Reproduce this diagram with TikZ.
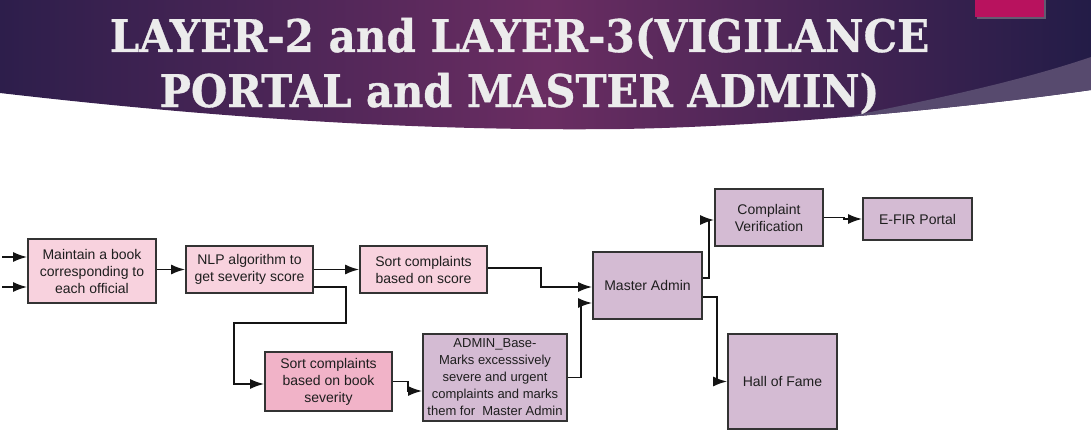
\documentclass[tikz,border=0pt]{standalone}
\usepackage{fontspec}
\setmainfont{Liberation Sans}
\newfontfamily\titlefont[BoldFeatures={FakeBold=0.8}]{DejaVu Serif}
\usetikzlibrary{arrows.meta}
\definecolor{hdrL}{HTML}{2D1E4B}
\definecolor{hdrM}{HTML}{6A2D62}
\definecolor{hdrR}{HTML}{231C47}
\definecolor{wedge}{HTML}{574A6E}
\definecolor{accent}{HTML}{B8125E}
\definecolor{titlec}{HTML}{ECECEC}
\definecolor{pinkA}{HTML}{F8D2DE}
\definecolor{pinkB}{HTML}{F1B3C8}
\definecolor{lav}{HTML}{D4BBD3}
\definecolor{boxline}{HTML}{333333}
\definecolor{txt}{HTML}{1E1E1E}
\begin{document}
\begin{tikzpicture}[x=1pt,y=-1pt,
  box/.style={draw=boxline, line width=1.7pt, align=center, text=txt,
    font=\fontsize{14}{17}\selectfont, inner sep=1pt},
  arr/.style={draw=black!92, line width=1.8pt, -{Latex[length=14pt,width=10pt]}},
  ttl/.style={font=\titlefont\bfseries\fontsize{45}{54}\selectfont, text=titlec, anchor=base}]
\useasboundingbox (0,0) rectangle (1091,441);
% header band
\def\bandpath{(0,0) -- (1091,0) -- (1091,90) .. controls (950,110) and (760,127) .. (620,129) .. controls (450,131) and (250,122) .. (0,93) -- cycle}
\shade[left color=hdrL, right color=hdrR, middle color=hdrM] \bandpath;
\begin{scope}
  \clip \bandpath;
  \fill[wedge] (790,128) .. controls (880,110) and (1000,88) .. (1091,57) -- (1091,200) -- (790,200) -- cycle;
\end{scope}
\fill[black!40, opacity=0.5] (977,0) rectangle (1046,19);
\fill[accent] (975,0) rectangle (1044,17);
\node[ttl] (t1) at (519.5,52) {\scalebox{0.936}[1]{LAYER-2 and LAYER-3(VIGILANCE}};
\node[ttl] (t2) at (519.5,107) {\scalebox{0.926}[1]{PORTAL and MASTER ADMIN)}};
% boxes
\node[box, fill=pinkA, minimum width=128pt, minimum height=64pt] (b1) at (92,271) {Maintain a book\\corresponding to\\each official};
\node[box, fill=pinkA, minimum width=127pt, minimum height=47pt] (b2) at (249.5,269.5) {NLP algorithm to\\get severity score};
\node[box, fill=pinkA, minimum width=127pt, minimum height=47pt] (b3) at (423.5,269.5) {Sort complaints\\based on score};
\node[box, fill=pinkB, minimum width=127pt, minimum height=59pt] (b4) at (328.5,381.5) {Sort complaints\\based on book\\severity};
\node[box, fill=lav, minimum width=144pt, minimum height=87pt, font=\fontsize{13}{17}\selectfont] (b5) at (495,377.5) {ADMIN\_Base-\\Marks excesssively\\severe and urgent\\complaints and marks\\them for\ \ Master Admin};
\node[box, fill=lav, minimum width=109pt, minimum height=67pt] (m) at (647.5,285.5) {Master Admin};
\node[box, fill=lav, minimum width=108pt, minimum height=57pt] (cv) at (769,217.5) {Complaint\\Verification};
\node[box, fill=lav, minimum width=109pt, minimum height=42pt] (ef) at (917.5,219) {E-FIR Portal};
\node[box, fill=lav, minimum width=109pt, minimum height=95pt] (hof) at (782.5,381.5) {Hall of Fame};
% inputs
\coordinate (in1) at (2,257);
\coordinate (in2) at (2,287);
\draw[arr] (in1) -- (in1 -| b1.west);
\draw[arr] (in2) -- (in2 -| b1.west);
% connectors
\draw[arr] (b2.west -| b1.east) -- (b2.west);
\draw[arr] (b2.east) -- (b3.west);
\draw[arr] ([yshift=-17.5pt]b2.east) -- ++(32,0) -- ++(0,36) -- ++(-112,0) |- ([yshift=-2.5pt]b4.west);
\draw[arr] (b4.east) -- ++(15,0) |- ([yshift=-13.5pt]b5.west);
\draw[arr] ([yshift=1.5pt]b3.east) -- ++(53,0) |- ([yshift=-1.5pt]m.west);
\draw[arr] (b5.east) -- ++(13,0) |- ([yshift=-17.5pt]m.west);
\draw[arr] ([yshift=7.5pt]m.east) -- ++(6,0) |- ([yshift=-2.5pt]cv.west);
\draw[arr] ([yshift=-11.5pt]m.east) -- ++(14,0) |- (hof.west);
\draw[arr] (cv.east) -- ++(20,0) |- (ef.west);
\end{tikzpicture}
\end{document}
